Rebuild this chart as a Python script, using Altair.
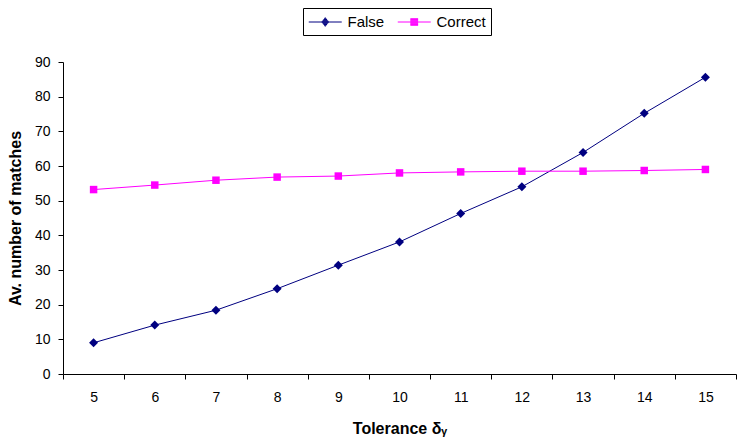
import altair as alt
import pandas as pd

tolerance = [5, 6, 7, 8, 9, 10, 11, 12, 13, 14, 15]
false_matches = [9.0, 14.1, 18.4, 24.6, 31.4, 38.1, 46.3, 54.0, 63.9, 75.2, 85.6]
correct_matches = [53.2, 54.5, 55.9, 56.8, 57.1, 58.0, 58.3, 58.5, 58.5, 58.7, 59.0]
series_names = ["False", "Correct"]
series_colors = ["#000080", "#FF00FF"]
series_shapes = ["diamond", "square"]
series_sizes = [81, 56]
y_ticks = [0, 10, 20, 30, 40, 50, 60, 70, 80, 90]

# category boundaries (ticks between categories, as in the original)
boundaries = [t - 0.5 for t in tolerance] + [tolerance[-1] + 0.5]
x_axis_values = sorted(boundaries + tolerance)

rows = []
for t, f, c in zip(tolerance, false_matches, correct_matches):
    rows.append({"tolerance": t, "value": f, "series": "False"})
    rows.append({"tolerance": t, "value": c, "series": "Correct"})
df = pd.DataFrame(rows)

FONT = "Liberation Sans"

x_enc = alt.X(
    "tolerance:Q",
    scale=alt.Scale(domain=[boundaries[0], boundaries[-1]], nice=False, zero=False),
    axis=alt.Axis(
        values=x_axis_values,
        labelExpr="datum.value % 1 === 0 ? format(datum.value, 'd') : ''",
        tickOpacity={"condition": {"test": "datum.value % 1 === 0", "value": 0}, "value": 1},
        tickSize=5,
        labelPadding=11,
        titlePadding=16,
        labelAngle=0,
        grid=False,
        title="Tolerance δᵧ",
    ),
)
y_enc = alt.Y(
    "value:Q",
    scale=alt.Scale(domain=[0, 90], nice=False),
    axis=alt.Axis(
        values=y_ticks,
        tickSize=5,
        labelPadding=8,
        titlePadding=11,
        grid=False,
        title="Av. number of matches",
    ),
)

base = alt.Chart(df)

layers = []
for name, col, shp, sz in zip(series_names, series_colors, series_shapes, series_sizes):
    sub = base.transform_filter(f"datum.series === '{name}'")
    layers.append(sub.mark_line(strokeWidth=1, color=col).encode(x=x_enc, y=y_enc))
    layers.append(
        sub.mark_point(filled=True, opacity=1, shape=shp, size=sz, color=col).encode(x=x_enc, y=y_enc)
    )


# Legend symbols (line through a marker), drawn with strokes only so that
# the legend stroke colour (from the colour scale) paints them.
def hatch_diamond(cx, hh, hw, step):
    parts = ["M-1,0H3"]
    k = 0
    while k * step <= hh:
        for yy in ([k * step] if k == 0 else [k * step, -k * step]):
            w = hw * (1 - abs(yy) / hh)
            parts.append(f"M{cx - w:.3f},{yy:.3f}H{cx + w:.3f}")
        k += 1
    return "".join(parts)


def hatch_square(cx, h, step):
    parts = ["M-1,0H3"]
    k = 0
    while k * step <= h + 1e-9:
        for yy in ([k * step] if k == 0 else [k * step, -k * step]):
            parts.append(f"M{cx - h:.3f},{yy:.3f}H{cx + h:.3f}")
        k += 1
    return "".join(parts)


legend_false_path = hatch_diamond(1.0, 0.58, 0.45, 0.1)
legend_correct_path = hatch_square(1.0, 0.47, 0.1)

leg = alt.Legend(
    orient="none",
    legendX=240,
    legendY=-54,
    direction="horizontal",
    title=None,
    strokeColor="black",
    fillColor="white",
    padding=5,
    symbolSize=272,
    symbolStrokeWidth=1,
    symbolOpacity=1,
    labelFont=FONT,
    labelFontSize=15,
    labelColor="black",
    labelOffset=21.5,
    columnPadding=10,
)

# invisible layer that only carries the legend
legend_layer = base.mark_point(filled=False, strokeWidth=1, opacity=0).encode(
    x=x_enc,
    y=y_enc,
    color=alt.Color("series:N", scale=alt.Scale(domain=series_names, range=series_colors), legend=leg),
    shape=alt.Shape(
        "series:N",
        scale=alt.Scale(domain=series_names, range=[legend_false_path, legend_correct_path]),
        legend=leg,
    ),
)
layers.append(legend_layer)

chart = (
    alt.layer(*layers)
    .properties(
        width=673,
        height=312,
        autosize=alt.AutoSizeParams(type="none"),
        padding={"left": 55, "top": 54, "right": 1, "bottom": 63},
        background="white",
    )
    .configure_view(stroke=None)
    .configure_axis(
        domainColor="black",
        domainWidth=1,
        tickColor="black",
        tickWidth=1,
        labelColor="black",
        labelFont=FONT,
        labelFontSize=14,
        titleFont=FONT,
        titleFontSize=16,
        titleFontWeight="bold",
        titleColor="black",
    )
)

chart.save("out.html", embed_options={"renderer": "svg", "actions": False})
